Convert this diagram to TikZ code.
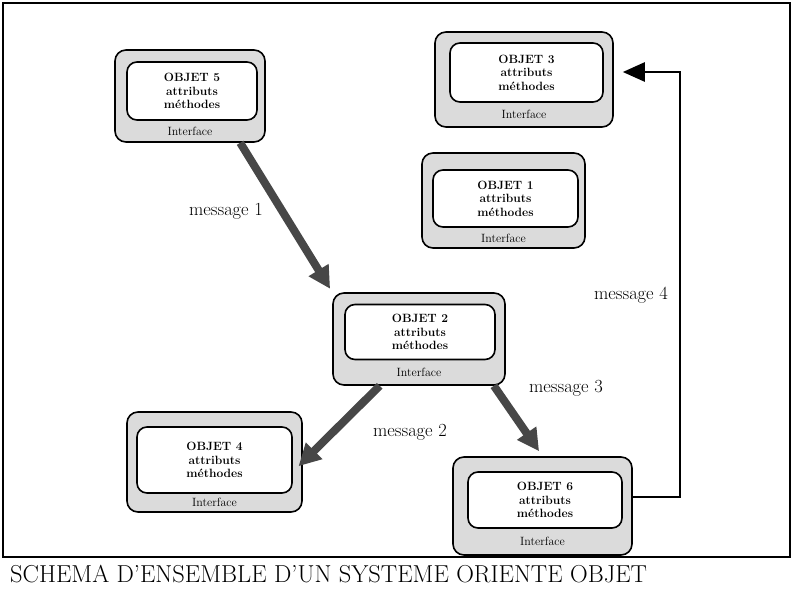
\documentclass[tikz,border=0pt]{standalone}
\usetikzlibrary{arrows.meta,positioning}

\begin{document}
\begin{tikzpicture}[x=1pt, y=-1pt,
  outer/.style={draw, line width=1.6pt, rounded corners=11pt, fill=black!14},
  inner/.style={draw, line width=1.6pt, rounded corners=10pt, fill=white,
    align=center, font=\fontsize{12}{13.5}\selectfont\bfseries},
  iface/.style={font=\fontsize{12}{13}\selectfont, inner sep=1pt},
  msg/.style={font=\fontsize{18.5}{20}\selectfont},
  bigarrow/.style={draw=black!72, line width=8pt, -{Triangle[length=22pt,width=22pt]}},
  linkarrow/.style={line width=2.6pt, -{Triangle[length=22pt,width=19pt]}},
]
  \useasboundingbox (0,0) rectangle (793,592);
  \draw[line width=1.5pt] (3,3) rectangle (790,557);

  % objets
  \node[outer, minimum width=150pt, minimum height=92pt] (o5) at (190,96) {};
  \node[inner, minimum width=130pt, minimum height=58pt] (o5in) at ([xshift=2pt,yshift=5pt]o5) {OBJET 5\\attributs\\méthodes};
  \node[iface] (o5if) at ([yshift=11pt]o5.south) {Interface};

  \node[outer, minimum width=178pt, minimum height=95pt] (o3) at (524,79.5) {};
  \node[inner, minimum width=153pt, minimum height=59pt] (o3in) at ([xshift=2.5pt,yshift=7pt]o3) {OBJET 3\\attributs\\méthodes};
  \node[iface] (o3if) at ([yshift=13pt]o3.south) {Interface};

  \node[outer, minimum width=163pt, minimum height=95pt] (o1) at (503.5,200.5) {};
  \node[inner, minimum width=145pt, minimum height=57pt] (o1in) at ([xshift=2pt,yshift=2pt]o1) {OBJET 1\\attributs\\méthodes};
  \node[iface] (o1if) at ([yshift=10pt]o1.south) {Interface};

  \node[outer, minimum width=172pt, minimum height=92pt] (o2) at (419,339) {};
  \node[inner, minimum width=150pt, minimum height=55pt] (o2in) at ([xshift=1pt,yshift=7pt]o2) {OBJET 2\\attributs\\méthodes};
  \node[iface] (o2if) at ([yshift=13pt]o2.south) {Interface};

  \node[outer, minimum width=175pt, minimum height=100pt] (o4) at (214.5,462) {};
  \node[inner, minimum width=155pt, minimum height=66pt] (o4in) at ([yshift=2pt]o4) {OBJET 4\\attributs\\méthodes};
  \node[iface] (o4if) at ([yshift=10pt]o4.south) {Interface};

  \node[outer, minimum width=179pt, minimum height=98pt] (o6) at (542.5,506) {};
  \node[inner, minimum width=154pt, minimum height=56pt] (o6in) at ([xshift=2.5pt,yshift=6pt]o6) {OBJET 6\\attributs\\méthodes};
  \node[iface] (o6if) at ([yshift=14pt]o6.south) {Interface};

  % messages
  \draw[bigarrow, shorten >=4pt] (o5.-43) -- (o2.north west);
  \draw[bigarrow, shorten >=-6pt] (o2.-130) -- (o4.east);
  \draw[bigarrow, shorten >=6pt] (o2.-32) -- (o6.north);
  \draw[linkarrow, shorten >=9pt] ([yshift=9pt]o6.east) -- ++(47,0) |- ([yshift=7.5pt]o3.east);

  \node[msg] (m1) at (226,211) {message 1};
  \node[msg] (m2) at (410,432) {message 2};
  \node[msg] (m3) at (566,388) {message 3};
  \node[msg] (m4) at (631,295) {message 4};

  \node[font=\fontsize{24.5}{26}\selectfont, anchor=west, inner sep=0pt] (titre) at (10,574) {SCHEMA D'ENSEMBLE D'UN SYSTEME ORIENTE OBJET};
\end{tikzpicture}
\end{document}
